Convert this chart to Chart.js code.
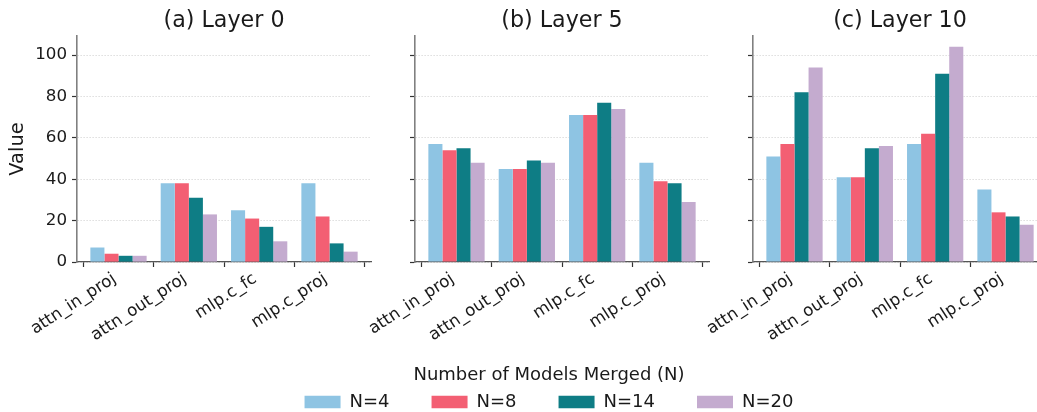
<!DOCTYPE html>
<html>
<head>
<meta charset="utf-8">
<script src="https://cdn.jsdelivr.net/npm/chart.js@4.4.1/dist/chart.umd.min.js"></script>
<style>
html, body { margin: 0; padding: 0; background: #fff; overflow: hidden; }
#wrap { position: relative; width: 1037px; height: 412px; overflow: hidden; }
canvas { position: absolute; }
</style>
</head>
<body>
<div id="wrap">
  <canvas id="c0" width="380" height="360" style="left:0px;top:0px"></canvas>
  <canvas id="c1" width="390" height="360" style="left:330px;top:0px"></canvas>
  <canvas id="c2" width="390" height="360" style="left:668px;top:0px"></canvas>
  <canvas id="leg" width="978" height="130" style="left:60px;top:366px"></canvas>
</div>
<script>
// data
var categories = ['attn_in_proj', 'attn_out_proj', 'mlp.c_fc', 'mlp.c_proj'];
var seriesNames = ['N=4', 'N=8', 'N=14', 'N=20'];
var colors = ['#8ec4e3', '#f35f73', '#0e7d85', '#c4abcf'];
var titles = ['(a) Layer 0', '(b) Layer 5', '(c) Layer 10'];
var yTicks = [0, 20, 40, 60, 80, 100];

// values per layer, one row per N
var layer0 = [
    [7, 38, 25, 38],
    [4, 38, 21, 22],
    [3, 31, 17, 9],
    [3, 23, 10, 5]
];
var layer5 = [
    [57, 45, 71, 48],
    [54, 45, 71, 39],
    [55, 49, 77, 38],
    [48, 48, 74, 29]
];
var layer10 = [
    [51, 41, 57, 35],
    [57, 41, 62, 24],
    [82, 55, 91, 22],
    [94, 56, 104, 18]
];
var layers = [layer0, layer5, layer10];

var FONT = 'DejaVu Sans';
var TXT = '#1a1a1a';

function panel(id, idx, yWidth, padRight) {
    var ctx = document.getElementById(id).getContext('2d');
    var rows = layers[idx];
    var datasets = [];
    for (var s = 0; s < seriesNames.length; s++) {
        var pts = [];
        for (var c = 0; c < categories.length; c++) {
            pts.push({x: c, y: rows[s][c]});
        }
        datasets.push({
            label: seriesNames[s],
            data: pts,
            backgroundColor: colors[s],
            borderWidth: 0,
            categoryPercentage: 0.8,
            barPercentage: 1.0
        });
    }
    var first = idx == 0;
    return new Chart(ctx, {
        type: 'bar',
        data: {datasets: datasets},
        options: {
            responsive: false,
            animation: false,
            layout: {padding: {left: 0, right: padRight, top: 0, bottom: 0}},
            plugins: {
                legend: {display: false},
                tooltip: {enabled: false},
                title: {
                    display: true,
                    text: titles[idx],
                    fullSize: false,
                    color: TXT,
                    font: {family: FONT, size: 22.2, weight: 'normal'},
                    padding: {top: 7.5, bottom: 1.9}
                }
            },
            scales: {
                x: {
                    type: 'linear',
                    min: -0.59,
                    max: 3.59,
                    offset: false,
                    afterBuildTicks: function (scale) {
                        scale.ticks = categories.map(function (c, i) { return {value: i}; });
                    },
                    afterFit: function (scale) { scale.height = 98; },
                    ticks: {
                        callback: function (v) { return categories[v]; },
                        minRotation: 33,
                        maxRotation: 33,
                        padding: 2,
                        labelOffset: -4,
                        color: TXT,
                        font: {family: FONT, size: 16.7}
                    },
                    grid: {
                        drawOnChartArea: false,
                        drawTicks: true,
                        tickLength: 5,
                        tickColor: '#333',
                        tickWidth: 1.2
                    },
                    border: {display: true, color: '#555', width: 1.3}
                },
                y: {
                    min: 0,
                    max: 109.2,
                    afterBuildTicks: function (scale) {
                        scale.ticks = yTicks.map(function (v) { return {value: v}; });
                    },
                    afterFit: function (scale) { scale.width = yWidth; },
                    ticks: {
                        display: first,
                        padding: 5,
                        color: TXT,
                        font: {family: FONT, size: 16.7}
                    },
                    grid: {
                        color: 'rgba(0,0,0,0.25)',
                        lineWidth: 0.8,
                        drawTicks: true,
                        tickLength: 5,
                        tickColor: '#333',
                        tickWidth: 1.2,
                        tickBorderDash: []
                    },
                    border: {display: true, color: '#808080', width: 1.6, dash: [1, 2]},
                    title: {
                        display: first,
                        text: 'Value',
                        color: TXT,
                        font: {family: FONT, size: 19.4},
                        padding: {top: 6, bottom: 0}
                    }
                }
            }
        }
    });
}

panel('c0', 0, 77, 9);
panel('c1', 1, 85, 11);
panel('c2', 2, 85, 11);

// shared legend under the panels
var legCtx = document.getElementById('leg').getContext('2d');
new Chart(legCtx, {
    type: 'bar',
    data: {
        labels: [],
        datasets: seriesNames.map(function (n, i) {
            return {label: n, data: [], backgroundColor: colors[i], borderWidth: 0};
        })
    },
    options: {
        responsive: false,
        animation: false,
        layout: {padding: 0},
        scales: {x: {display: false}, y: {display: false}},
        plugins: {
            tooltip: {enabled: false},
            legend: {
                display: true,
                position: 'top',
                title: {
                    display: true,
                    text: 'Number of Models Merged (N)',
                    color: TXT,
                    font: {family: FONT, size: 18},
                    // negative bottom padding pulls the item row up close to the title
                    padding: {top: 0, bottom: -36.6}
                },
                labels: {
                    boxWidth: 36,
                    boxHeight: 12.6,
                    padding: 42,
                    color: TXT,
                    font: {family: FONT, size: 18}
                }
            }
        }
    }
});
</script>
</body>
</html>
